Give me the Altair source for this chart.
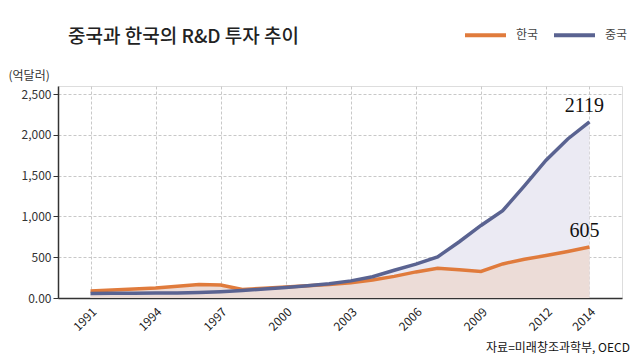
import altair as alt
import pandas as pd

years = list(range(1991, 2015))
korea = [86, 98, 110, 122, 145, 165, 160, 105, 120, 135, 150, 165, 188, 220, 265, 320, 365, 345, 325, 418, 476, 520, 570, 625]
china = [55, 57, 59, 60, 62, 68, 78, 92, 110, 130, 150, 175, 210, 260, 340, 415, 505, 690, 890, 1070, 1375, 1690, 1950, 2160]
series_names = ["한국", "중국"]
end_labels = ["605", "2119"]
x_ticks = [1991, 1994, 1997, 2000, 2003, 2006, 2009, 2012, 2014]
y_ticks = [0, 500, 1000, 1500, 2000, 2500]

ORANGE = "#e07b3c"
BLUE = "#5a6391"
FILL_K = "#ecdcd7"
FILL_C = "#ebeaf3"

df = pd.DataFrame(
    [{"year": y, "value": v, "series": "한국"} for y, v in zip(years, korea)]
    + [{"year": y, "value": v, "series": "중국"} for y, v in zip(years, china)]
)
lab = pd.DataFrame({
    "year": [2014, 2014],
    "value": [korea[-1], china[-1]],
    "text": end_labels,
})
one = pd.DataFrame({"a": [0]})

xs = alt.Scale(domain=[1989.5, 2015.5], nice=False, zero=False)
ys = alt.Scale(domain=[0, 2600], nice=False)

xaxis = alt.Axis(values=x_ticks, format="d", labelAngle=-45, grid=True,
                 gridDash=[3, 2], gridColor="#c8c8c8", ticks=False,
                 domainColor="#333", domainWidth=1.5, labelFontSize=12,
                 labelColor="#222", labelPadding=8, title=None)
yaxis = alt.Axis(values=y_ticks, grid=True, gridDash=[3, 2], gridColor="#c8c8c8",
                 labelExpr="datum.value == 0 ? '0.00' : format(datum.value, ',')",
                 tickColor="#333", tickSize=5, domainColor="#333", domainWidth=1.5,
                 labelFontSize=12, labelColor="#333", labelPadding=2,
                 title="(억달러)", titleAngle=0, titleX=-50, titleY=-11,
                 titleAlign="left", titleBaseline="middle", titleFontSize=12,
                 titleFontWeight="normal", titleColor="#333")

base_x = alt.X("year:Q", scale=xs, axis=xaxis)
base_y = alt.Y("value:Q", scale=ys, axis=yaxis)

area_c = alt.Chart(df).transform_filter("datum.series == '중국'").mark_area(
    color=FILL_C, opacity=1).encode(x=base_x, y=base_y)
area_k = alt.Chart(df).transform_filter("datum.series == '한국'").mark_area(
    color=FILL_K, opacity=1).encode(x="year:Q", y="value:Q")

lines = alt.Chart(df).mark_line(strokeWidth=3.5).encode(
    x="year:Q", y="value:Q",
    color=alt.Color("series:N",
                    scale=alt.Scale(domain=series_names, range=[ORANGE, BLUE]),
                    sort=series_names,
                    legend=alt.Legend(orient="none", legendX=405, legendY=-73.5,
                                      direction="horizontal", title=None,
                                      symbolType="stroke", symbolStrokeWidth=4,
                                      symbolSize=1681, labelFontSize=12,
                                      labelColor="#444", columnPadding=7,
                                      labelOffset=8, padding=0)),
)

labels = alt.Chart(lab).mark_text(fontSize=20, font="Liberation Serif",
                                  color="#111", dy=-16, dx=-5).encode(
    x="year:Q", y="value:Q", text="text:N")

title = alt.Chart(one).mark_text(text="중국과 한국의 R&D 투자 추이", font="Noto Sans CJK KR",
                                 fontSize=19, fontWeight=500, color="#222",
                                 align="left", baseline="middle").encode(
    x=alt.value(10), y=alt.value(-49))
source = alt.Chart(one).mark_text(text="자료=미래창조과학부, OECD", font="Noto Sans CJK KR",
                                  fontSize=12, color="#111", align="right",
                                  baseline="middle").encode(
    x=alt.value(572), y=alt.value(262))

chart = alt.layer(area_c, area_k, lines, labels, title, source).properties(
    width=564, height=212,
    autosize=alt.AutoSizeParams(type="none"),
    padding={"left": 50, "top": 78, "right": 10, "bottom": 60},
).configure_view(stroke=None).configure(font="Noto Sans CJK KR")

chart.save("out.html", embed_options={"renderer": "svg", "actions": False})
